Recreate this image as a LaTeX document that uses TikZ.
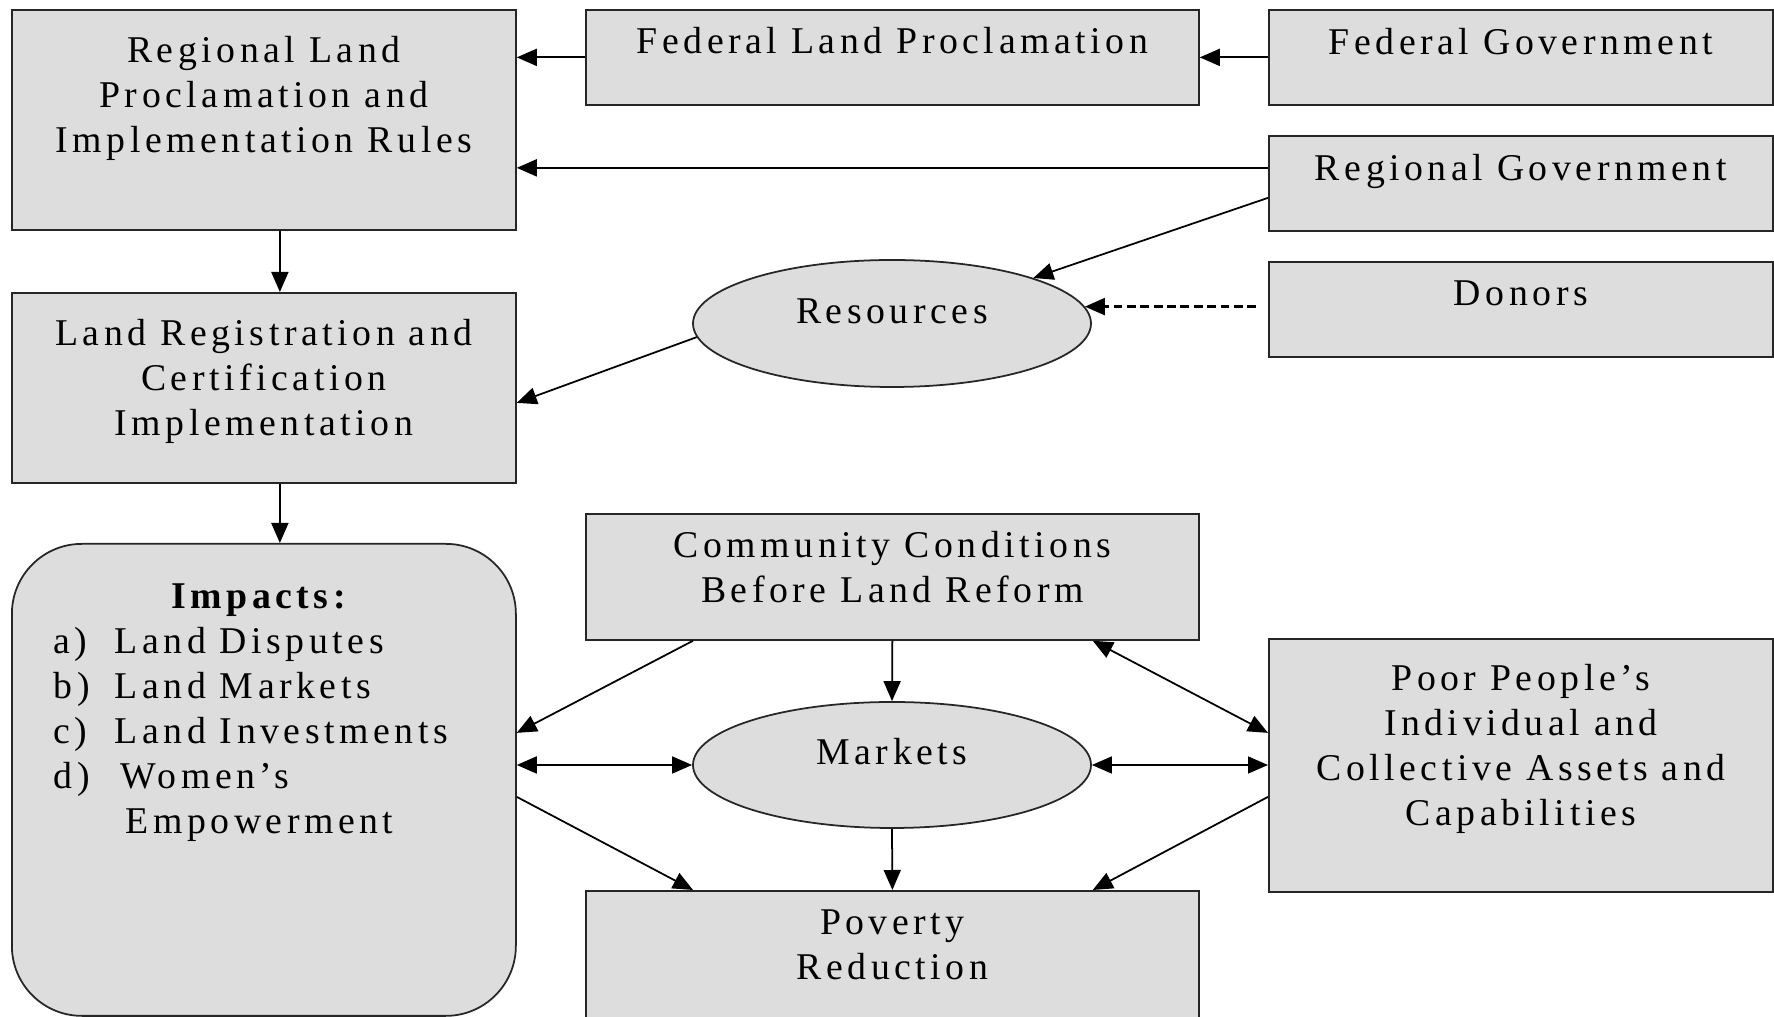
\documentclass[tikz,border=0pt]{standalone}
\usepackage{fontspec}
\setmainfont{Liberation Serif}[LetterSpace=12]
\usepackage{xcolor}
\usetikzlibrary{positioning, shapes.geometric, arrows.meta}

\definecolor{boxfill}{RGB}{221,221,221}
\tikzset{
  box/.style={draw=black!85, fill=boxfill, line width=0.5pt, inner sep=0pt, anchor=north west},
  blob/.style={ellipse, draw=black!85, fill=boxfill, line width=0.5pt, minimum width=3.98cm, minimum height=1.27cm, text height=2.6mm, text depth=2.6mm, inner sep=0pt},
  boxtext/.style={align=center, inner sep=0pt, anchor=north},
  link/.style={line width=0.5pt, -{Triangle[length=2mm, width=1.7mm]}},
  twoway/.style={line width=0.5pt, {Triangle[length=2mm, width=1.7mm]}-{Triangle[length=2mm, width=1.7mm]}},
}

\begin{document}
\begin{tikzpicture}[font=\fontsize{10.75}{12.8}\selectfont]
  \useasboundingbox (0,0) rectangle (17.74,-10.17);
  \clip (0,0) rectangle (17.74,-10.17);
  \fill[white] (0,0) rectangle (17.74,-10.17);

  % upper part: rules and who makes them
  \node[box, minimum width=5.04cm, minimum height=2.20cm] (rules) at (0.11,-0.09) {};
  \node[boxtext, below=0.27cm of rules.north] (rulestext) {Regional Land\\Proclamation and\\Implementation Rules};
  \node[box, minimum width=6.13cm, minimum height=0.95cm] (fedland) at (5.85,-0.09) {};
  \node[boxtext, below=0.18cm of fedland.north] (fedlandtext) {Federal Land Proclamation};
  \node[box, minimum width=5.04cm, minimum height=0.95cm] (fedgov) at (12.68,-0.09) {};
  \node[boxtext, below=0.19cm of fedgov.north] (fedgovtext) {Federal Government};
  \node[box, minimum width=5.04cm, minimum height=0.95cm] (reggov) at (12.68,-1.35) {};
  \node[boxtext, below=0.19cm of reggov.north] (reggovtext) {Regional Government};
  \node[box, minimum width=5.04cm, minimum height=0.95cm] (donors) at (12.68,-2.61) {};
  \node[boxtext, below=0.19cm of donors.north] (donorstext) {Donors};
  \node[blob] (resources) at (8.92,-3.235) {Resources};
  \node[box, minimum width=5.04cm, minimum height=1.90cm] (reg) at (0.11,-2.92) {};
  \node[boxtext, below=0.27cm of reg.north] (regtext) {Land Registration and\\Certification\\Implementation};

  % lower part: impacts
  \node[box, rounded corners=0.7cm, minimum width=5.04cm, minimum height=4.72cm] (impacts) at (0.11,-5.43) {};
  \node[inner sep=0pt, anchor=north west] (impactstext) at ([xshift=4.2mm, yshift=-3.35mm]impacts.north west)
    {\begin{tabular}{@{}l@{\hspace{2.5mm}}l@{}}
       \multicolumn{2}{c}{\hspace{2mm}\textbf{Impacts:}}\\
       a) & Land Disputes\\
       b) & Land Markets\\
       c) & Land Investments\\
       d) & \hspace{0.6mm}Women’s\\
          & \hspace{1.1mm}Empowerment
     \end{tabular}};
  \node[box, minimum width=6.13cm, minimum height=1.26cm] (community) at (5.85,-5.13) {};
  \node[boxtext, below=0.18cm of community.north] (communitytext) {Community Conditions\\Before Land Reform};
  \node[blob, minimum height=1.26cm] (markets) at (8.92,-7.65) {Markets};
  \node[box, minimum width=6.13cm, minimum height=1.60cm] (poverty) at (5.85,-8.90) {};
  \node[boxtext, below=0.19cm of poverty.north] (povertytext) {Poverty\\Reduction};
  \node[box, minimum width=5.04cm, minimum height=2.53cm] (poor) at (12.68,-6.38) {};
  \node[boxtext, below=0.26cm of poor.north] (poortext) {Poor People’s\\Individual and\\Collective Assets and\\Capabilities};

  % arrows
  \draw[link] (fedgov.west) -- (fedland.east);
  \draw[link] (fedland.west) -- (fedland.west -| rules.east);
  \draw[link] ([yshift=1.55mm]reggov.west) -- ([yshift=1.55mm]reggov.west -| rules.east);
  \draw[link] ([yshift=-1.45mm]reggov.west) -- (resources.north east);
  \coordinate (donorsend) at ([xshift=-1.2mm]donors.west);
  \draw[link, line width=0.65pt, dash pattern=on 2.5pt off 1.3pt] (donorsend |- resources.5) -- (resources.5);
  \draw[link] (resources.184) -- ([yshift=-1.5mm]reg.east);
  \draw[link] ([xshift=1.6mm]rules.south) -- ([xshift=1.6mm]reg.north);
  \draw[link] ([xshift=1.6mm]reg.south) -- ([xshift=1.6mm]impacts.north);

  \draw[link] (community.south) -- (markets.north);
  \draw[link] (markets.south) -- (poverty.north);
  \draw[link] ([xshift=10.8mm]community.south west) -- ([yshift=4.7mm]impacts.east);
  \draw[twoway] (impacts.east |- markets.west) -- (markets.west);
  \draw[link] ([yshift=-1.7mm]impacts.east) -- ([xshift=10.8mm]poverty.north west);
  \draw[twoway] ([xshift=-10.7mm]community.south east) -- ([yshift=3.25mm]poor.west);
  \draw[twoway] (markets.east) -- (poor.west |- markets.east);
  \draw[link] ([yshift=-3.15mm]poor.west) -- ([xshift=-10.7mm]poverty.north east);
\end{tikzpicture}
\end{document}
